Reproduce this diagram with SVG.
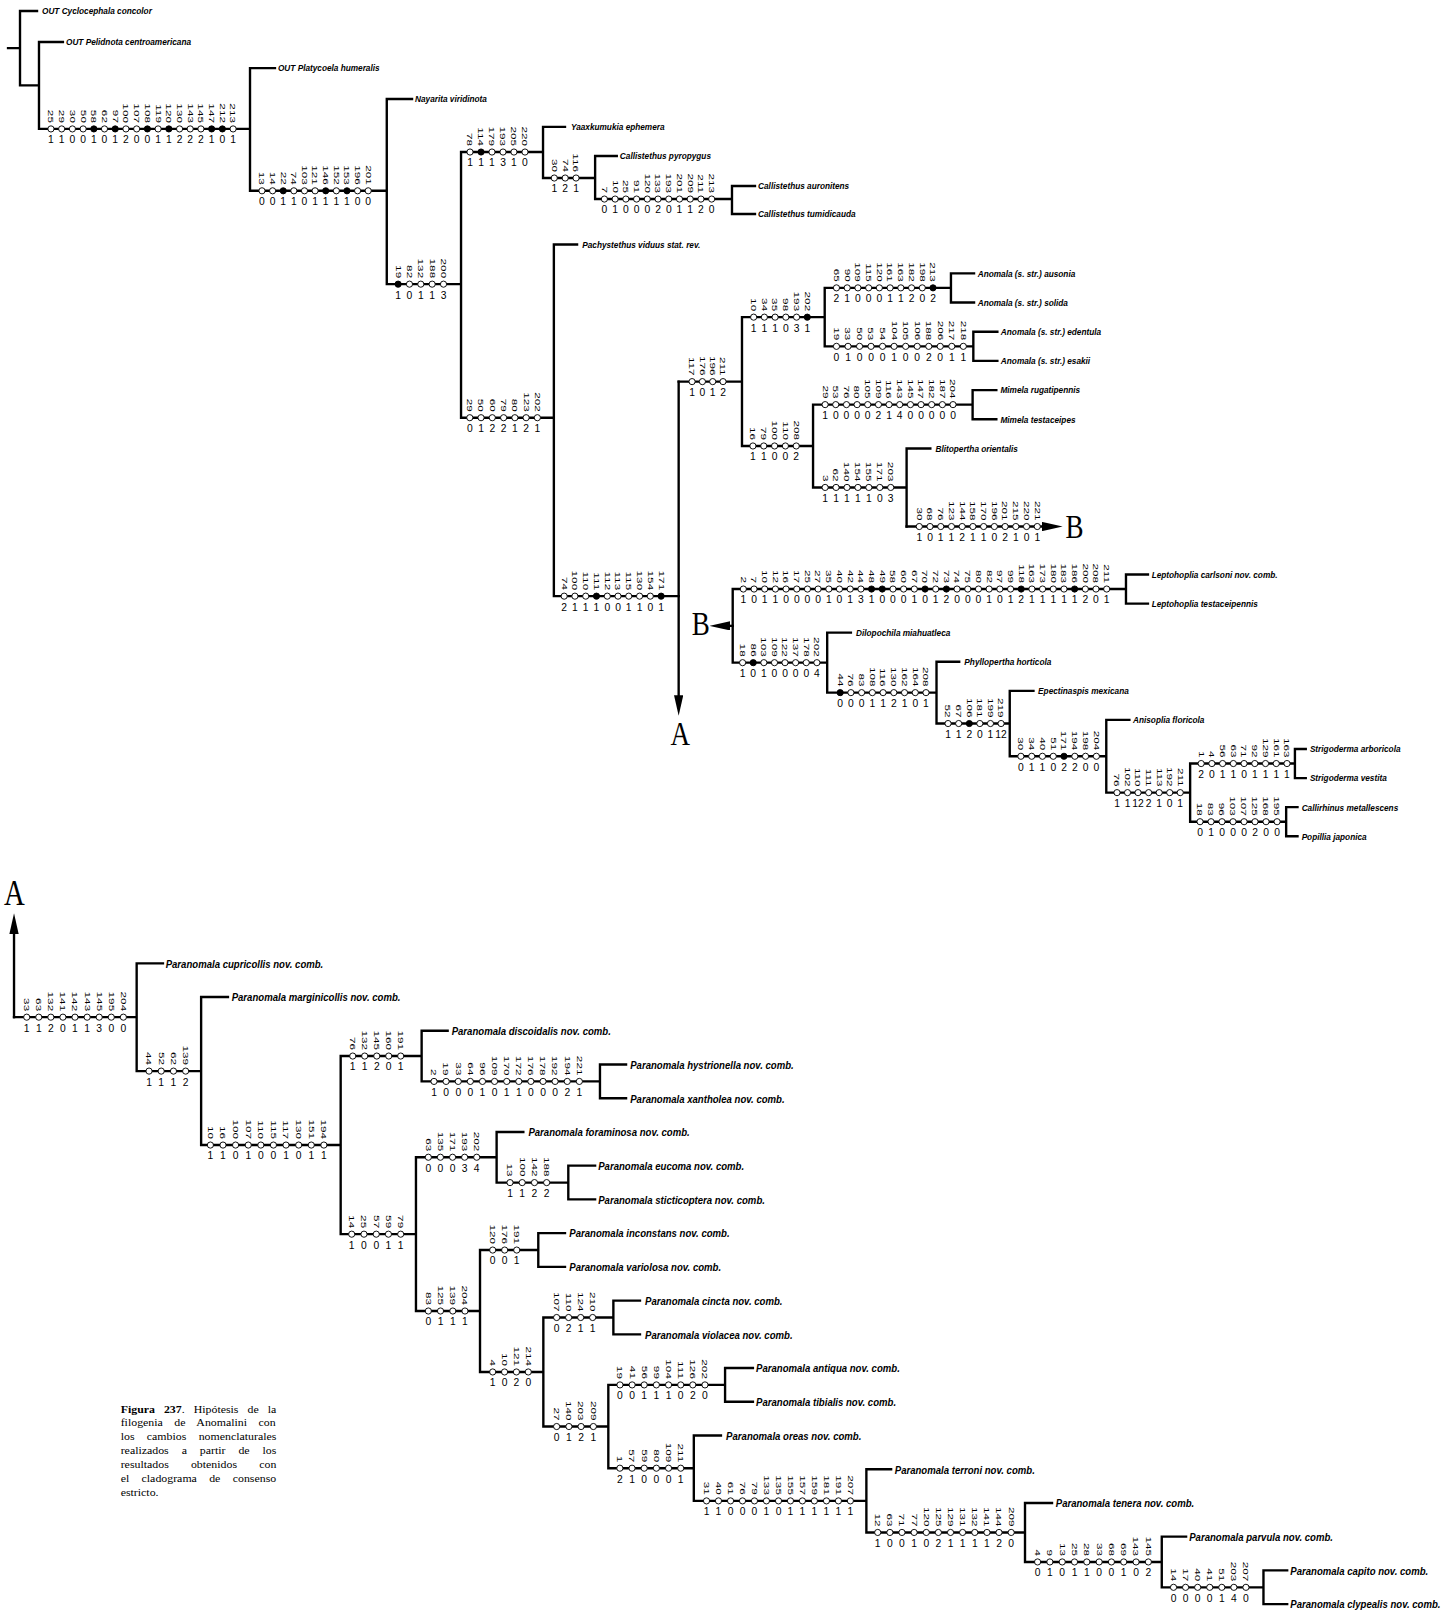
<svg xmlns="http://www.w3.org/2000/svg" width="1444" height="1617" viewBox="0 0 1444 1617">
<defs>
<style>
.ln path{fill:none;stroke:#000;stroke-width:2.3;stroke-linecap:square}
circle{r:3px;fill:#fff;stroke:#000;stroke-width:.9}
circle.f{fill:#000}
.c text{font-family:"Liberation Sans",Arial,sans-serif;font-size:11.4px;text-anchor:end;dominant-baseline:central}
.c text.s{font-size:10px;text-anchor:middle;dominant-baseline:auto}
.t,.tb{font-family:"Liberation Sans",Arial,sans-serif;font-weight:bold;font-style:italic}
.t{font-size:9.2px}
.tb{font-size:11.2px}
.L{font-family:"Liberation Serif","Times New Roman",serif;font-size:32px}
.cap{font-family:"Liberation Serif","Times New Roman",serif;font-size:10px}
</style>
<marker id="ah" markerUnits="userSpaceOnUse" viewBox="0 0 20 9" markerWidth="20" markerHeight="9" refX="8" refY="4.5" orient="auto"><path d="M0 0L20 4.5L0 9z"/></marker>
</defs>
<rect width="1444" height="1617" fill="#fff"/>
<g transform="scale(1.0314)">
<g id="connectors" class="ln">
<path d="M7.8 46.7H19.4M19.4 10.7V82.8M19.4 10.7H35.9M19.4 82.8H37.8M37.8 40.7V125M37.8 40.7H61M37.8 125H242.4M242.4 66V185M242.4 66H266.6M242.4 185H375M375 96V275.5M375 96H399.5M375 275.5H447M447 147.4V405M447 147.4H526.5M526.5 123V172.6M526.5 123H547.8M526.5 172.6H577M577 151.3V193M577 151.3H598M577 193H709.7M709.7 180.3V207.5M709.7 180.3H732M709.7 207.5H732M447 405H537M537 237V578M537 237H559.5M537 578H658M658 370H719.4M719.4 307.5V432.4M719.4 307.5H799.6M799.6 279.1V335.8M799.6 279.1H922M922 265V293.3M922 265H944.4M922 293.3H944.4M799.6 335.8H943.7M943.7 321.6V349.9M943.7 321.6H967M943.7 349.9H967M719.4 432.4H788.3M788.3 392.3V472.6M788.3 392.3H943M943 378.2V406.5M943 378.2H966M943 406.5H966M788.3 472.6H879M879 434.8V510.5M879 434.8H902"/>
<path d="M658 370V682" marker-end="url(#ah)"/>
<path d="M879 510.5H1018.3" marker-end="url(#ah)"/>
<path d="M710.4 606.8H700" marker-end="url(#ah)"/>
<path d="M710.4 571.1V642.5M710.4 571.1H1091.7M1091.7 557V585.2M1091.7 557H1113M1091.7 585.2H1113M710.4 642.5H802M802 613.4V671.55M802 613.4H825M802 671.55H908M908 641.6V701.5M908 641.6H930M908 701.5H979M979 669.8V733.25M979 669.8H1002M979 733.25H1072.6M1072.6 698V768.5M1072.6 698H1095M1072.6 768.5H1153.9M1153.9 740.3V796.7M1153.9 740.3H1255.5M1255.5 726.2V754.4M1255.5 726.2H1266M1255.5 754.4H1266M1153.9 796.7H1247M1247 782.6V810.8M1247 782.6H1258M1247 810.8H1258"/>
<path d="M13.6 986.2V897.5" marker-end="url(#ah)"/>
<path d="M13.6 986.2H132.5M132.5 934V1038.5M132.5 934H158M132.5 1038.5H195M195 966.7V1110.2M195 966.7H221M195 1110.2H330.3M330.3 1023.9V1196.6M330.3 1023.9H408.8M408.8 999.4V1048.5M408.8 999.4H434M408.8 1048.5H581.7M581.7 1032.1V1064.8M581.7 1032.1H607M581.7 1064.8H607M330.3 1196.6H403.3M403.3 1122V1271.1M403.3 1122H481.5M481.5 1097.5V1146.6M481.5 1097.5H507.4M481.5 1146.6H551M551 1130.2V1162.9M551 1130.2H577M551 1162.9H577M403.3 1271.1H465.4M465.4 1212V1330.2M465.4 1212H521.9M521.9 1195.6V1228.3M521.9 1195.6H547.8M521.9 1228.3H547.8M465.4 1330.2H526.8M526.8 1277.4V1383.1M526.8 1277.4H594.7M594.7 1261V1293.7M594.7 1261H620.5M594.7 1293.7H620.5M526.8 1383.1H589.8M589.8 1342.75V1423.5M589.8 1342.75H703M703 1326.4V1359.1M703 1326.4H730M703 1359.1H730M589.8 1423.5H672.7M672.7 1391.8V1455.2M672.7 1391.8H699M672.7 1455.2H840M840 1424.5V1485.8M840 1424.5H864M840 1485.8H993.8M993.8 1457.2V1514.4M993.8 1457.2H1020M993.8 1514.4H1126.4M1126.4 1489.9V1539M1126.4 1489.9H1150M1126.4 1539H1225M1225 1522.6V1555.3M1225 1522.6H1248M1225 1555.3H1248"/>
</g>

<g id="letters" class="L">
<text transform="translate(3.8 877.8) scale(.82 1)" font-size="34">A</text>
<text transform="translate(650 722) scale(.82 1)">A</text>
<text transform="translate(670.6 616) scale(.82 1)">B</text>
<text transform="translate(1033 522) scale(.82 1)">B</text>
</g>

<g id="taxa-top" class="t">
<g id="t-cyclocephala"><text transform="translate(40.7 14) scale(.87 1)">OUT Cyclocephala concolor</text></g>
<g id="t-pelidnota"><text transform="translate(64 44) scale(.87 1)">OUT Pelidnota centroamericana</text></g>
<g id="t-platycoela"><text transform="translate(269.5 69.3) scale(.87 1)">OUT Platycoela humeralis</text></g>
<g id="t-nayarita"><text transform="translate(402.4 99.3) scale(.87 1)">Nayarita viridinota</text></g>
<g id="t-yaax"><text transform="translate(553.6 126.3) scale(.87 1)">Yaaxkumukia ephemera</text></g>
<g id="t-pyropygus"><text transform="translate(601 154.6) scale(.87 1)">Callistethus pyropygus</text></g>
<g id="t-auronitens"><text transform="translate(735 183.6) scale(.87 1)">Callistethus auronitens</text></g>
<g id="t-tumidicauda"><text transform="translate(735 210.8) scale(.87 1)">Callistethus tumidicauda</text></g>
<g id="t-pachystethus"><text transform="translate(564.5 240.3) scale(.87 1)">Pachystethus viduus stat. rev.</text></g>
<g id="t-ausonia"><text transform="translate(948 268.3) scale(.87 1)">Anomala (s. str.) ausonia</text></g>
<g id="t-solida"><text transform="translate(948 296.6) scale(.87 1)">Anomala (s. str.) solida</text></g>
<g id="t-edentula"><text transform="translate(970.4 324.9) scale(.87 1)">Anomala (s. str.) edentula</text></g>
<g id="t-esakii"><text transform="translate(970.4 353.2) scale(.87 1)">Anomala (s. str.) esakii</text></g>
<g id="t-rugatipennis"><text transform="translate(970 381.5) scale(.87 1)">Mimela rugatipennis</text></g>
<g id="t-testaceipes"><text transform="translate(970 409.8) scale(.87 1)">Mimela testaceipes</text></g>
<g id="t-blitopertha"><text transform="translate(907 438.1) scale(.87 1)">Blitopertha orientalis</text></g>
<g id="t-carlsoni"><text transform="translate(1116.6 560.3) scale(.87 1)">Leptohoplia carlsoni nov. comb.</text></g>
<g id="t-testaceipennis"><text transform="translate(1116.6 588.5) scale(.87 1)">Leptohoplia testaceipennis</text></g>
<g id="t-dilopochila"><text transform="translate(830 616.7) scale(.87 1)">Dilopochila miahuatleca</text></g>
<g id="t-phyllopertha"><text transform="translate(935 644.9) scale(.87 1)">Phyllopertha horticola</text></g>
<g id="t-epectinaspis"><text transform="translate(1006.5 673.1) scale(.87 1)">Epectinaspis mexicana</text></g>
<g id="t-anisoplia"><text transform="translate(1098.5 701.3) scale(.87 1)">Anisoplia floricola</text></g>
<g id="t-arboricola"><text transform="translate(1270 729.5) scale(.87 1)">Strigoderma arboricola</text></g>
<g id="t-vestita"><text transform="translate(1270 757.7) scale(.87 1)">Strigoderma vestita</text></g>
<g id="t-callirhinus"><text transform="translate(1262 785.9) scale(.87 1)">Callirhinus metallescens</text></g>
<g id="t-popillia"><text transform="translate(1262 814.1) scale(.87 1)">Popillia japonica</text></g>
</g>

<g id="taxa-bottom" class="tb">
<g id="t-cupricollis"><text transform="translate(160.6 938.2) scale(.83 1)">Paranomala cupricollis nov. comb.</text></g>
<g id="t-marginicollis"><text transform="translate(224.6 970.9) scale(.83 1)">Paranomala marginicollis nov. comb.</text></g>
<g id="t-discoidalis"><text transform="translate(437.9 1003.6) scale(.83 1)">Paranomala discoidalis nov. comb.</text></g>
<g id="t-hystrionella"><text transform="translate(611 1036.3) scale(.83 1)">Paranomala hystrionella nov. comb.</text></g>
<g id="t-xantholea"><text transform="translate(611 1069) scale(.83 1)">Paranomala xantholea nov. comb.</text></g>
<g id="t-foraminosa"><text transform="translate(512.3 1101.7) scale(.83 1)">Paranomala foraminosa nov. comb.</text></g>
<g id="t-eucoma"><text transform="translate(580 1134.4) scale(.83 1)">Paranomala eucoma nov. comb.</text></g>
<g id="t-sticticoptera"><text transform="translate(580 1167.1) scale(.83 1)">Paranomala sticticoptera nov. comb.</text></g>
<g id="t-inconstans"><text transform="translate(552 1199.8) scale(.83 1)">Paranomala inconstans nov. comb.</text></g>
<g id="t-variolosa"><text transform="translate(552 1232.5) scale(.83 1)">Paranomala variolosa nov. comb.</text></g>
<g id="t-cincta"><text transform="translate(625.4 1265.2) scale(.83 1)">Paranomala cincta nov. comb.</text></g>
<g id="t-violacea"><text transform="translate(625.4 1297.9) scale(.83 1)">Paranomala violacea nov. comb.</text></g>
<g id="t-antiqua"><text transform="translate(733 1330.6) scale(.83 1)">Paranomala antiqua nov. comb.</text></g>
<g id="t-tibialis"><text transform="translate(733 1363.3) scale(.83 1)">Paranomala tibialis nov. comb.</text></g>
<g id="t-oreas"><text transform="translate(704 1396) scale(.83 1)">Paranomala oreas nov. comb.</text></g>
<g id="t-terroni"><text transform="translate(867.5 1428.7) scale(.83 1)">Paranomala terroni nov. comb.</text></g>
<g id="t-tenera"><text transform="translate(1023.6 1461.4) scale(.83 1)">Paranomala tenera nov. comb.</text></g>
<g id="t-parvula"><text transform="translate(1153 1494.1) scale(.83 1)">Paranomala parvula nov. comb.</text></g>
<g id="t-capito"><text transform="translate(1251 1526.8) scale(.83 1)">Paranomala capito nov. comb.</text></g>
<g id="t-clypealis"><text transform="translate(1251 1559.5) scale(.83 1)">Paranomala clypealis nov. comb.</text></g>
</g>

<g id="b1" class="c" transform="translate(0 125)">
<circle cx="49.4"/><text transform="translate(49.4 -5.8)rotate(90)scale(1 .62)">25</text><text class="s" x="49.4" y="14">1</text>
<circle cx="59.8"/><text transform="translate(59.8 -5.8)rotate(90)scale(1 .62)">29</text><text class="s" x="59.8" y="14">1</text>
<circle cx="70.2"/><text transform="translate(70.2 -5.8)rotate(90)scale(1 .62)">30</text><text class="s" x="70.2" y="14">0</text>
<circle cx="80.6"/><text transform="translate(80.6 -5.8)rotate(90)scale(1 .62)">50</text><text class="s" x="80.6" y="14">0</text>
<circle class="f" cx="91"/><text transform="translate(91 -5.8)rotate(90)scale(1 .62)">58</text><text class="s" x="91" y="14">1</text>
<circle cx="101.3"/><text transform="translate(101.3 -5.8)rotate(90)scale(1 .62)">62</text><text class="s" x="101.3" y="14">0</text>
<circle class="f" cx="111.7"/><text transform="translate(111.7 -5.8)rotate(90)scale(1 .62)">97</text><text class="s" x="111.7" y="14">1</text>
<circle cx="122.1"/><text transform="translate(122.1 -5.8)rotate(90)scale(1 .62)">100</text><text class="s" x="122.1" y="14">2</text>
<circle cx="132.5"/><text transform="translate(132.5 -5.8)rotate(90)scale(1 .62)">107</text><text class="s" x="132.5" y="14">0</text>
<circle class="f" cx="142.9"/><text transform="translate(142.9 -5.8)rotate(90)scale(1 .62)">108</text><text class="s" x="142.9" y="14">0</text>
<circle cx="153.3"/><text transform="translate(153.3 -5.8)rotate(90)scale(1 .62)">119</text><text class="s" x="153.3" y="14">1</text>
<circle class="f" cx="163.7"/><text transform="translate(163.7 -5.8)rotate(90)scale(1 .62)">120</text><text class="s" x="163.7" y="14">1</text>
<circle cx="174.1"/><text transform="translate(174.1 -5.8)rotate(90)scale(1 .62)">130</text><text class="s" x="174.1" y="14">2</text>
<circle cx="184.4"/><text transform="translate(184.4 -5.8)rotate(90)scale(1 .62)">143</text><text class="s" x="184.4" y="14">2</text>
<circle cx="194.8"/><text transform="translate(194.8 -5.8)rotate(90)scale(1 .62)">145</text><text class="s" x="194.8" y="14">2</text>
<circle class="f" cx="205.2"/><text transform="translate(205.2 -5.8)rotate(90)scale(1 .62)">147</text><text class="s" x="205.2" y="14">1</text>
<circle class="f" cx="215.6"/><text transform="translate(215.6 -5.8)rotate(90)scale(1 .62)">212</text><text class="s" x="215.6" y="14">0</text>
<circle cx="226"/><text transform="translate(226 -5.8)rotate(90)scale(1 .62)">213</text><text class="s" x="226" y="14">1</text>
</g>

<g id="b2" class="c" transform="translate(0 185)">
<circle cx="254"/><text transform="translate(254 -5.8)rotate(90)scale(1 .62)">13</text><text class="s" x="254" y="14">0</text>
<circle cx="264.3"/><text transform="translate(264.3 -5.8)rotate(90)scale(1 .62)">14</text><text class="s" x="264.3" y="14">0</text>
<circle class="f" cx="274.6"/><text transform="translate(274.6 -5.8)rotate(90)scale(1 .62)">22</text><text class="s" x="274.6" y="14">1</text>
<circle cx="284.9"/><text transform="translate(284.9 -5.8)rotate(90)scale(1 .62)">74</text><text class="s" x="284.9" y="14">1</text>
<circle cx="295.2"/><text transform="translate(295.2 -5.8)rotate(90)scale(1 .62)">103</text><text class="s" x="295.2" y="14">0</text>
<circle cx="305.5"/><text transform="translate(305.5 -5.8)rotate(90)scale(1 .62)">121</text><text class="s" x="305.5" y="14">1</text>
<circle class="f" cx="315.8"/><text transform="translate(315.8 -5.8)rotate(90)scale(1 .62)">146</text><text class="s" x="315.8" y="14">1</text>
<circle cx="326.1"/><text transform="translate(326.1 -5.8)rotate(90)scale(1 .62)">152</text><text class="s" x="326.1" y="14">1</text>
<circle class="f" cx="336.4"/><text transform="translate(336.4 -5.8)rotate(90)scale(1 .62)">153</text><text class="s" x="336.4" y="14">1</text>
<circle cx="346.7"/><text transform="translate(346.7 -5.8)rotate(90)scale(1 .62)">196</text><text class="s" x="346.7" y="14">0</text>
<circle cx="357"/><text transform="translate(357 -5.8)rotate(90)scale(1 .62)">201</text><text class="s" x="357" y="14">0</text>
</g>

<g id="b3" class="c" transform="translate(0 275.5)">
<circle class="f" cx="386"/><text transform="translate(386 -5.8)rotate(90)scale(1 .62)">19</text><text class="s" x="386" y="14">1</text>
<circle cx="397"/><text transform="translate(397 -5.8)rotate(90)scale(1 .62)">82</text><text class="s" x="397" y="14">0</text>
<circle cx="408"/><text transform="translate(408 -5.8)rotate(90)scale(1 .62)">132</text><text class="s" x="408" y="14">1</text>
<circle cx="419"/><text transform="translate(419 -5.8)rotate(90)scale(1 .62)">188</text><text class="s" x="419" y="14">1</text>
<circle cx="430"/><text transform="translate(430 -5.8)rotate(90)scale(1 .62)">200</text><text class="s" x="430" y="14">3</text>
</g>

<g id="b4" class="c" transform="translate(0 147.4)">
<circle cx="455.7"/><text transform="translate(455.7 -5.8)rotate(90)scale(1 .62)">78</text><text class="s" x="455.7" y="14">1</text>
<circle class="f" cx="466.4"/><text transform="translate(466.4 -5.8)rotate(90)scale(1 .62)">114</text><text class="s" x="466.4" y="14">1</text>
<circle cx="477"/><text transform="translate(477 -5.8)rotate(90)scale(1 .62)">179</text><text class="s" x="477" y="14">1</text>
<circle cx="487.7"/><text transform="translate(487.7 -5.8)rotate(90)scale(1 .62)">193</text><text class="s" x="487.7" y="14">3</text>
<circle cx="498.3"/><text transform="translate(498.3 -5.8)rotate(90)scale(1 .62)">205</text><text class="s" x="498.3" y="14">1</text>
<circle cx="509"/><text transform="translate(509 -5.8)rotate(90)scale(1 .62)">220</text><text class="s" x="509" y="14">0</text>
</g>

<g id="b5" class="c" transform="translate(0 172.6)">
<circle cx="537.4"/><text transform="translate(537.4 -5.8)rotate(90)scale(1 .62)">30</text><text class="s" x="537.4" y="14">1</text>
<circle cx="548"/><text transform="translate(548 -5.8)rotate(90)scale(1 .62)">74</text><text class="s" x="548" y="14">2</text>
<circle cx="558.5"/><text transform="translate(558.5 -5.8)rotate(90)scale(1 .62)">116</text><text class="s" x="558.5" y="14">1</text>
</g>

<g id="b6" class="c" transform="translate(0 193)">
<circle cx="586"/><text transform="translate(586 -5.8)rotate(90)scale(1 .62)">7</text><text class="s" x="586" y="14">0</text>
<circle cx="596.4"/><text transform="translate(596.4 -5.8)rotate(90)scale(1 .62)">10</text><text class="s" x="596.4" y="14">1</text>
<circle cx="606.8"/><text transform="translate(606.8 -5.8)rotate(90)scale(1 .62)">25</text><text class="s" x="606.8" y="14">0</text>
<circle cx="617.2"/><text transform="translate(617.2 -5.8)rotate(90)scale(1 .62)">91</text><text class="s" x="617.2" y="14">0</text>
<circle cx="627.6"/><text transform="translate(627.6 -5.8)rotate(90)scale(1 .62)">120</text><text class="s" x="627.6" y="14">0</text>
<circle cx="638"/><text transform="translate(638 -5.8)rotate(90)scale(1 .62)">133</text><text class="s" x="638" y="14">2</text>
<circle cx="648.4"/><text transform="translate(648.4 -5.8)rotate(90)scale(1 .62)">193</text><text class="s" x="648.4" y="14">0</text>
<circle cx="658.8"/><text transform="translate(658.8 -5.8)rotate(90)scale(1 .62)">201</text><text class="s" x="658.8" y="14">1</text>
<circle cx="669.2"/><text transform="translate(669.2 -5.8)rotate(90)scale(1 .62)">209</text><text class="s" x="669.2" y="14">1</text>
<circle cx="679.6"/><text transform="translate(679.6 -5.8)rotate(90)scale(1 .62)">211</text><text class="s" x="679.6" y="14">2</text>
<circle cx="690"/><text transform="translate(690 -5.8)rotate(90)scale(1 .62)">213</text><text class="s" x="690" y="14">0</text>
</g>

<g id="b7" class="c" transform="translate(0 405)">
<circle cx="455.5"/><text transform="translate(455.5 -5.8)rotate(90)scale(1 .62)">29</text><text class="s" x="455.5" y="14">0</text>
<circle cx="466.4"/><text transform="translate(466.4 -5.8)rotate(90)scale(1 .62)">50</text><text class="s" x="466.4" y="14">1</text>
<circle cx="477.3"/><text transform="translate(477.3 -5.8)rotate(90)scale(1 .62)">60</text><text class="s" x="477.3" y="14">2</text>
<circle cx="488.3"/><text transform="translate(488.3 -5.8)rotate(90)scale(1 .62)">79</text><text class="s" x="488.3" y="14">2</text>
<circle cx="499.2"/><text transform="translate(499.2 -5.8)rotate(90)scale(1 .62)">80</text><text class="s" x="499.2" y="14">1</text>
<circle cx="510.1"/><text transform="translate(510.1 -5.8)rotate(90)scale(1 .62)">123</text><text class="s" x="510.1" y="14">2</text>
<circle cx="521"/><text transform="translate(521 -5.8)rotate(90)scale(1 .62)">202</text><text class="s" x="521" y="14">1</text>
</g>

<g id="b8" class="c" transform="translate(0 578)">
<circle cx="547"/><text transform="translate(547 -5.8)rotate(90)scale(1 .62)">74</text><text class="s" x="547" y="14">2</text>
<circle cx="557.4"/><text transform="translate(557.4 -5.8)rotate(90)scale(1 .62)">100</text><text class="s" x="557.4" y="14">1</text>
<circle cx="567.9"/><text transform="translate(567.9 -5.8)rotate(90)scale(1 .62)">110</text><text class="s" x="567.9" y="14">1</text>
<circle class="f" cx="578.3"/><text transform="translate(578.3 -5.8)rotate(90)scale(1 .62)">111</text><text class="s" x="578.3" y="14">1</text>
<circle cx="588.8"/><text transform="translate(588.8 -5.8)rotate(90)scale(1 .62)">112</text><text class="s" x="588.8" y="14">0</text>
<circle cx="599.2"/><text transform="translate(599.2 -5.8)rotate(90)scale(1 .62)">113</text><text class="s" x="599.2" y="14">0</text>
<circle cx="609.6"/><text transform="translate(609.6 -5.8)rotate(90)scale(1 .62)">115</text><text class="s" x="609.6" y="14">1</text>
<circle cx="620.1"/><text transform="translate(620.1 -5.8)rotate(90)scale(1 .62)">130</text><text class="s" x="620.1" y="14">1</text>
<circle cx="630.5"/><text transform="translate(630.5 -5.8)rotate(90)scale(1 .62)">154</text><text class="s" x="630.5" y="14">0</text>
<circle class="f" cx="641"/><text transform="translate(641 -5.8)rotate(90)scale(1 .62)">171</text><text class="s" x="641" y="14">1</text>
</g>

<g id="b9" class="c" transform="translate(0 370)">
<circle cx="671"/><text transform="translate(671 -5.8)rotate(90)scale(1 .62)">117</text><text class="s" x="671" y="14">1</text>
<circle cx="681"/><text transform="translate(681 -5.8)rotate(90)scale(1 .62)">176</text><text class="s" x="681" y="14">0</text>
<circle cx="691"/><text transform="translate(691 -5.8)rotate(90)scale(1 .62)">196</text><text class="s" x="691" y="14">1</text>
<circle cx="701"/><text transform="translate(701 -5.8)rotate(90)scale(1 .62)">211</text><text class="s" x="701" y="14">2</text>
</g>

<g id="b10" class="c" transform="translate(0 307.5)">
<circle cx="730.7"/><text transform="translate(730.7 -5.8)rotate(90)scale(1 .62)">10</text><text class="s" x="730.7" y="14">1</text>
<circle cx="741.1"/><text transform="translate(741.1 -5.8)rotate(90)scale(1 .62)">34</text><text class="s" x="741.1" y="14">1</text>
<circle cx="751.5"/><text transform="translate(751.5 -5.8)rotate(90)scale(1 .62)">35</text><text class="s" x="751.5" y="14">1</text>
<circle cx="761.9"/><text transform="translate(761.9 -5.8)rotate(90)scale(1 .62)">98</text><text class="s" x="761.9" y="14">0</text>
<circle cx="772.3"/><text transform="translate(772.3 -5.8)rotate(90)scale(1 .62)">193</text><text class="s" x="772.3" y="14">3</text>
<circle class="f" cx="782.7"/><text transform="translate(782.7 -5.8)rotate(90)scale(1 .62)">202</text><text class="s" x="782.7" y="14">1</text>
</g>

<g id="b11" class="c" transform="translate(0 279.1)">
<circle cx="811"/><text transform="translate(811 -5.8)rotate(90)scale(1 .62)">65</text><text class="s" x="811" y="14">2</text>
<circle cx="821.4"/><text transform="translate(821.4 -5.8)rotate(90)scale(1 .62)">90</text><text class="s" x="821.4" y="14">1</text>
<circle cx="831.8"/><text transform="translate(831.8 -5.8)rotate(90)scale(1 .62)">109</text><text class="s" x="831.8" y="14">0</text>
<circle cx="842.2"/><text transform="translate(842.2 -5.8)rotate(90)scale(1 .62)">115</text><text class="s" x="842.2" y="14">0</text>
<circle cx="852.6"/><text transform="translate(852.6 -5.8)rotate(90)scale(1 .62)">120</text><text class="s" x="852.6" y="14">0</text>
<circle cx="863"/><text transform="translate(863 -5.8)rotate(90)scale(1 .62)">161</text><text class="s" x="863" y="14">1</text>
<circle cx="873.4"/><text transform="translate(873.4 -5.8)rotate(90)scale(1 .62)">163</text><text class="s" x="873.4" y="14">1</text>
<circle cx="883.8"/><text transform="translate(883.8 -5.8)rotate(90)scale(1 .62)">182</text><text class="s" x="883.8" y="14">2</text>
<circle cx="894.2"/><text transform="translate(894.2 -5.8)rotate(90)scale(1 .62)">198</text><text class="s" x="894.2" y="14">0</text>
<circle class="f" cx="904.6"/><text transform="translate(904.6 -5.8)rotate(90)scale(1 .62)">213</text><text class="s" x="904.6" y="14">2</text>
</g>

<g id="b12" class="c" transform="translate(0 335.8)">
<circle cx="811"/><text transform="translate(811 -5.8)rotate(90)scale(1 .62)">19</text><text class="s" x="811" y="14">0</text>
<circle cx="822.2"/><text transform="translate(822.2 -5.8)rotate(90)scale(1 .62)">33</text><text class="s" x="822.2" y="14">1</text>
<circle cx="833.4"/><text transform="translate(833.4 -5.8)rotate(90)scale(1 .62)">50</text><text class="s" x="833.4" y="14">0</text>
<circle cx="844.5"/><text transform="translate(844.5 -5.8)rotate(90)scale(1 .62)">53</text><text class="s" x="844.5" y="14">0</text>
<circle cx="855.7"/><text transform="translate(855.7 -5.8)rotate(90)scale(1 .62)">54</text><text class="s" x="855.7" y="14">0</text>
<circle cx="866.9"/><text transform="translate(866.9 -5.8)rotate(90)scale(1 .62)">104</text><text class="s" x="866.9" y="14">1</text>
<circle cx="878.1"/><text transform="translate(878.1 -5.8)rotate(90)scale(1 .62)">105</text><text class="s" x="878.1" y="14">0</text>
<circle cx="889.3"/><text transform="translate(889.3 -5.8)rotate(90)scale(1 .62)">106</text><text class="s" x="889.3" y="14">0</text>
<circle cx="900.5"/><text transform="translate(900.5 -5.8)rotate(90)scale(1 .62)">188</text><text class="s" x="900.5" y="14">2</text>
<circle cx="911.6"/><text transform="translate(911.6 -5.8)rotate(90)scale(1 .62)">206</text><text class="s" x="911.6" y="14">0</text>
<circle cx="922.8"/><text transform="translate(922.8 -5.8)rotate(90)scale(1 .62)">217</text><text class="s" x="922.8" y="14">1</text>
<circle cx="934"/><text transform="translate(934 -5.8)rotate(90)scale(1 .62)">218</text><text class="s" x="934" y="14">1</text>
</g>

<g id="b13" class="c" transform="translate(0 432.4)">
<circle cx="730"/><text transform="translate(730 -5.8)rotate(90)scale(1 .62)">16</text><text class="s" x="730" y="14">1</text>
<circle cx="740.5"/><text transform="translate(740.5 -5.8)rotate(90)scale(1 .62)">79</text><text class="s" x="740.5" y="14">1</text>
<circle cx="751"/><text transform="translate(751 -5.8)rotate(90)scale(1 .62)">100</text><text class="s" x="751" y="14">0</text>
<circle cx="761.5"/><text transform="translate(761.5 -5.8)rotate(90)scale(1 .62)">110</text><text class="s" x="761.5" y="14">0</text>
<circle cx="772"/><text transform="translate(772 -5.8)rotate(90)scale(1 .62)">208</text><text class="s" x="772" y="14">2</text>
</g>

<g id="b14" class="c" transform="translate(0 392.3)">
<circle cx="800"/><text transform="translate(800 -5.8)rotate(90)scale(1 .62)">29</text><text class="s" x="800" y="14">1</text>
<circle cx="810.3"/><text transform="translate(810.3 -5.8)rotate(90)scale(1 .62)">53</text><text class="s" x="810.3" y="14">0</text>
<circle cx="820.7"/><text transform="translate(820.7 -5.8)rotate(90)scale(1 .62)">76</text><text class="s" x="820.7" y="14">0</text>
<circle cx="831"/><text transform="translate(831 -5.8)rotate(90)scale(1 .62)">80</text><text class="s" x="831" y="14">0</text>
<circle cx="841.3"/><text transform="translate(841.3 -5.8)rotate(90)scale(1 .62)">105</text><text class="s" x="841.3" y="14">0</text>
<circle cx="851.7"/><text transform="translate(851.7 -5.8)rotate(90)scale(1 .62)">109</text><text class="s" x="851.7" y="14">2</text>
<circle cx="862"/><text transform="translate(862 -5.8)rotate(90)scale(1 .62)">116</text><text class="s" x="862" y="14">1</text>
<circle cx="872.3"/><text transform="translate(872.3 -5.8)rotate(90)scale(1 .62)">143</text><text class="s" x="872.3" y="14">4</text>
<circle cx="882.7"/><text transform="translate(882.7 -5.8)rotate(90)scale(1 .62)">145</text><text class="s" x="882.7" y="14">0</text>
<circle cx="893"/><text transform="translate(893 -5.8)rotate(90)scale(1 .62)">147</text><text class="s" x="893" y="14">0</text>
<circle cx="903.3"/><text transform="translate(903.3 -5.8)rotate(90)scale(1 .62)">182</text><text class="s" x="903.3" y="14">0</text>
<circle cx="913.7"/><text transform="translate(913.7 -5.8)rotate(90)scale(1 .62)">187</text><text class="s" x="913.7" y="14">0</text>
<circle cx="924"/><text transform="translate(924 -5.8)rotate(90)scale(1 .62)">204</text><text class="s" x="924" y="14">0</text>
</g>

<g id="b15" class="c" transform="translate(0 472.6)">
<circle cx="800"/><text transform="translate(800 -5.8)rotate(90)scale(1 .62)">3</text><text class="s" x="800" y="14">1</text>
<circle cx="810.6"/><text transform="translate(810.6 -5.8)rotate(90)scale(1 .62)">62</text><text class="s" x="810.6" y="14">1</text>
<circle cx="821.2"/><text transform="translate(821.2 -5.8)rotate(90)scale(1 .62)">140</text><text class="s" x="821.2" y="14">1</text>
<circle cx="831.8"/><text transform="translate(831.8 -5.8)rotate(90)scale(1 .62)">154</text><text class="s" x="831.8" y="14">1</text>
<circle cx="842.4"/><text transform="translate(842.4 -5.8)rotate(90)scale(1 .62)">155</text><text class="s" x="842.4" y="14">1</text>
<circle cx="853"/><text transform="translate(853 -5.8)rotate(90)scale(1 .62)">171</text><text class="s" x="853" y="14">0</text>
<circle cx="863.6"/><text transform="translate(863.6 -5.8)rotate(90)scale(1 .62)">203</text><text class="s" x="863.6" y="14">3</text>
</g>

<g id="b16" class="c" transform="translate(0 510.5)">
<circle cx="891.3"/><text transform="translate(891.3 -5.8)rotate(90)scale(1 .62)">30</text><text class="s" x="891.3" y="14">1</text>
<circle cx="901.7"/><text transform="translate(901.7 -5.8)rotate(90)scale(1 .62)">68</text><text class="s" x="901.7" y="14">0</text>
<circle cx="912.1"/><text transform="translate(912.1 -5.8)rotate(90)scale(1 .62)">76</text><text class="s" x="912.1" y="14">1</text>
<circle cx="922.5"/><text transform="translate(922.5 -5.8)rotate(90)scale(1 .62)">123</text><text class="s" x="922.5" y="14">1</text>
<circle cx="932.9"/><text transform="translate(932.9 -5.8)rotate(90)scale(1 .62)">144</text><text class="s" x="932.9" y="14">2</text>
<circle cx="943.3"/><text transform="translate(943.3 -5.8)rotate(90)scale(1 .62)">158</text><text class="s" x="943.3" y="14">1</text>
<circle cx="953.7"/><text transform="translate(953.7 -5.8)rotate(90)scale(1 .62)">170</text><text class="s" x="953.7" y="14">1</text>
<circle cx="964.1"/><text transform="translate(964.1 -5.8)rotate(90)scale(1 .62)">196</text><text class="s" x="964.1" y="14">0</text>
<circle cx="974.5"/><text transform="translate(974.5 -5.8)rotate(90)scale(1 .62)">201</text><text class="s" x="974.5" y="14">2</text>
<circle cx="984.9"/><text transform="translate(984.9 -5.8)rotate(90)scale(1 .62)">215</text><text class="s" x="984.9" y="14">1</text>
<circle cx="995.3"/><text transform="translate(995.3 -5.8)rotate(90)scale(1 .62)">220</text><text class="s" x="995.3" y="14">0</text>
<circle cx="1005.7"/><text transform="translate(1005.7 -5.8)rotate(90)scale(1 .62)">221</text><text class="s" x="1005.7" y="14">1</text>
</g>

<g id="b17" class="c" transform="translate(0 571.1)">
<circle cx="720.7"/><text transform="translate(720.7 -5.8)rotate(90)scale(1 .62)">2</text><text class="s" x="720.7" y="14">1</text>
<circle cx="731.1"/><text transform="translate(731.1 -5.8)rotate(90)scale(1 .62)">7</text><text class="s" x="731.1" y="14">0</text>
<circle cx="741.4"/><text transform="translate(741.4 -5.8)rotate(90)scale(1 .62)">10</text><text class="s" x="741.4" y="14">1</text>
<circle cx="751.8"/><text transform="translate(751.8 -5.8)rotate(90)scale(1 .62)">12</text><text class="s" x="751.8" y="14">1</text>
<circle cx="762.1"/><text transform="translate(762.1 -5.8)rotate(90)scale(1 .62)">16</text><text class="s" x="762.1" y="14">0</text>
<circle cx="772.5"/><text transform="translate(772.5 -5.8)rotate(90)scale(1 .62)">17</text><text class="s" x="772.5" y="14">0</text>
<circle cx="782.9"/><text transform="translate(782.9 -5.8)rotate(90)scale(1 .62)">25</text><text class="s" x="782.9" y="14">0</text>
<circle cx="793.2"/><text transform="translate(793.2 -5.8)rotate(90)scale(1 .62)">27</text><text class="s" x="793.2" y="14">0</text>
<circle cx="803.6"/><text transform="translate(803.6 -5.8)rotate(90)scale(1 .62)">35</text><text class="s" x="803.6" y="14">1</text>
<circle cx="813.9"/><text transform="translate(813.9 -5.8)rotate(90)scale(1 .62)">40</text><text class="s" x="813.9" y="14">0</text>
<circle cx="824.3"/><text transform="translate(824.3 -5.8)rotate(90)scale(1 .62)">42</text><text class="s" x="824.3" y="14">1</text>
<circle cx="834.7"/><text transform="translate(834.7 -5.8)rotate(90)scale(1 .62)">44</text><text class="s" x="834.7" y="14">3</text>
<circle class="f" cx="845"/><text transform="translate(845 -5.8)rotate(90)scale(1 .62)">48</text><text class="s" x="845" y="14">1</text>
<circle class="f" cx="855.4"/><text transform="translate(855.4 -5.8)rotate(90)scale(1 .62)">49</text><text class="s" x="855.4" y="14">0</text>
<circle cx="865.8"/><text transform="translate(865.8 -5.8)rotate(90)scale(1 .62)">58</text><text class="s" x="865.8" y="14">0</text>
<circle cx="876.1"/><text transform="translate(876.1 -5.8)rotate(90)scale(1 .62)">60</text><text class="s" x="876.1" y="14">0</text>
<circle cx="886.5"/><text transform="translate(886.5 -5.8)rotate(90)scale(1 .62)">67</text><text class="s" x="886.5" y="14">1</text>
<circle class="f" cx="896.9"/><text transform="translate(896.9 -5.8)rotate(90)scale(1 .62)">70</text><text class="s" x="896.9" y="14">0</text>
<circle cx="907.2"/><text transform="translate(907.2 -5.8)rotate(90)scale(1 .62)">72</text><text class="s" x="907.2" y="14">1</text>
<circle class="f" cx="917.6"/><text transform="translate(917.6 -5.8)rotate(90)scale(1 .62)">73</text><text class="s" x="917.6" y="14">2</text>
<circle cx="927.9"/><text transform="translate(927.9 -5.8)rotate(90)scale(1 .62)">74</text><text class="s" x="927.9" y="14">0</text>
<circle cx="938.3"/><text transform="translate(938.3 -5.8)rotate(90)scale(1 .62)">75</text><text class="s" x="938.3" y="14">0</text>
<circle cx="948.7"/><text transform="translate(948.7 -5.8)rotate(90)scale(1 .62)">80</text><text class="s" x="948.7" y="14">0</text>
<circle cx="959"/><text transform="translate(959 -5.8)rotate(90)scale(1 .62)">82</text><text class="s" x="959" y="14">1</text>
<circle cx="969.4"/><text transform="translate(969.4 -5.8)rotate(90)scale(1 .62)">97</text><text class="s" x="969.4" y="14">0</text>
<circle cx="979.8"/><text transform="translate(979.8 -5.8)rotate(90)scale(1 .62)">99</text><text class="s" x="979.8" y="14">1</text>
<circle class="f" cx="990.1"/><text transform="translate(990.1 -5.8)rotate(90)scale(1 .62)">118</text><text class="s" x="990.1" y="14">2</text>
<circle cx="1000.5"/><text transform="translate(1000.5 -5.8)rotate(90)scale(1 .62)">163</text><text class="s" x="1000.5" y="14">1</text>
<circle cx="1010.8"/><text transform="translate(1010.8 -5.8)rotate(90)scale(1 .62)">173</text><text class="s" x="1010.8" y="14">1</text>
<circle cx="1021.2"/><text transform="translate(1021.2 -5.8)rotate(90)scale(1 .62)">180</text><text class="s" x="1021.2" y="14">1</text>
<circle cx="1031.6"/><text transform="translate(1031.6 -5.8)rotate(90)scale(1 .62)">183</text><text class="s" x="1031.6" y="14">1</text>
<circle class="f" cx="1041.9"/><text transform="translate(1041.9 -5.8)rotate(90)scale(1 .62)">186</text><text class="s" x="1041.9" y="14">1</text>
<circle cx="1052.3"/><text transform="translate(1052.3 -5.8)rotate(90)scale(1 .62)">200</text><text class="s" x="1052.3" y="14">2</text>
<circle cx="1062.6"/><text transform="translate(1062.6 -5.8)rotate(90)scale(1 .62)">208</text><text class="s" x="1062.6" y="14">0</text>
<circle cx="1073"/><text transform="translate(1073 -5.8)rotate(90)scale(1 .62)">211</text><text class="s" x="1073" y="14">1</text>
</g>

<g id="b18" class="c" transform="translate(0 642.5)">
<circle cx="720"/><text transform="translate(720 -5.8)rotate(90)scale(1 .62)">18</text><text class="s" x="720" y="14">1</text>
<circle class="f" cx="730.3"/><text transform="translate(730.3 -5.8)rotate(90)scale(1 .62)">86</text><text class="s" x="730.3" y="14">0</text>
<circle cx="740.6"/><text transform="translate(740.6 -5.8)rotate(90)scale(1 .62)">103</text><text class="s" x="740.6" y="14">1</text>
<circle cx="750.9"/><text transform="translate(750.9 -5.8)rotate(90)scale(1 .62)">109</text><text class="s" x="750.9" y="14">0</text>
<circle cx="761.1"/><text transform="translate(761.1 -5.8)rotate(90)scale(1 .62)">122</text><text class="s" x="761.1" y="14">0</text>
<circle cx="771.4"/><text transform="translate(771.4 -5.8)rotate(90)scale(1 .62)">137</text><text class="s" x="771.4" y="14">0</text>
<circle cx="781.7"/><text transform="translate(781.7 -5.8)rotate(90)scale(1 .62)">178</text><text class="s" x="781.7" y="14">0</text>
<circle cx="792"/><text transform="translate(792 -5.8)rotate(90)scale(1 .62)">202</text><text class="s" x="792" y="14">4</text>
</g>

<g id="b19" class="c" transform="translate(0 671.55)">
<circle class="f" cx="814.6"/><text transform="translate(814.6 -5.8)rotate(90)scale(1 .62)">44</text><text class="s" x="814.6" y="14">0</text>
<circle cx="825"/><text transform="translate(825 -5.8)rotate(90)scale(1 .62)">76</text><text class="s" x="825" y="14">0</text>
<circle cx="835.4"/><text transform="translate(835.4 -5.8)rotate(90)scale(1 .62)">83</text><text class="s" x="835.4" y="14">0</text>
<circle cx="845.8"/><text transform="translate(845.8 -5.8)rotate(90)scale(1 .62)">108</text><text class="s" x="845.8" y="14">1</text>
<circle cx="856.2"/><text transform="translate(856.2 -5.8)rotate(90)scale(1 .62)">116</text><text class="s" x="856.2" y="14">1</text>
<circle cx="866.6"/><text transform="translate(866.6 -5.8)rotate(90)scale(1 .62)">130</text><text class="s" x="866.6" y="14">2</text>
<circle cx="877"/><text transform="translate(877 -5.8)rotate(90)scale(1 .62)">162</text><text class="s" x="877" y="14">1</text>
<circle cx="887.4"/><text transform="translate(887.4 -5.8)rotate(90)scale(1 .62)">164</text><text class="s" x="887.4" y="14">0</text>
<circle cx="897.8"/><text transform="translate(897.8 -5.8)rotate(90)scale(1 .62)">208</text><text class="s" x="897.8" y="14">1</text>
</g>

<g id="b20" class="c" transform="translate(0 701.5)">
<circle cx="919.2"/><text transform="translate(919.2 -5.8)rotate(90)scale(1 .62)">52</text><text class="s" x="919.2" y="14">1</text>
<circle cx="929.5"/><text transform="translate(929.5 -5.8)rotate(90)scale(1 .62)">67</text><text class="s" x="929.5" y="14">1</text>
<circle class="f" cx="939.8"/><text transform="translate(939.8 -5.8)rotate(90)scale(1 .62)">106</text><text class="s" x="939.8" y="14">2</text>
<circle cx="950"/><text transform="translate(950 -5.8)rotate(90)scale(1 .62)">181</text><text class="s" x="950" y="14">0</text>
<circle cx="960.3"/><text transform="translate(960.3 -5.8)rotate(90)scale(1 .62)">199</text><text class="s" x="960.3" y="14">1</text>
<circle cx="970.6"/><text transform="translate(970.6 -5.8)rotate(90)scale(1 .62)">219</text><text class="s" x="970.6" y="14">12</text>
</g>

<g id="b21" class="c" transform="translate(0 733.25)">
<circle cx="989.8"/><text transform="translate(989.8 -5.8)rotate(90)scale(1 .62)">30</text><text class="s" x="989.8" y="14">0</text>
<circle cx="1000.3"/><text transform="translate(1000.3 -5.8)rotate(90)scale(1 .62)">34</text><text class="s" x="1000.3" y="14">1</text>
<circle cx="1010.7"/><text transform="translate(1010.7 -5.8)rotate(90)scale(1 .62)">40</text><text class="s" x="1010.7" y="14">1</text>
<circle cx="1021.2"/><text transform="translate(1021.2 -5.8)rotate(90)scale(1 .62)">51</text><text class="s" x="1021.2" y="14">0</text>
<circle class="f" cx="1031.6"/><text transform="translate(1031.6 -5.8)rotate(90)scale(1 .62)">171</text><text class="s" x="1031.6" y="14">2</text>
<circle cx="1042.1"/><text transform="translate(1042.1 -5.8)rotate(90)scale(1 .62)">194</text><text class="s" x="1042.1" y="14">2</text>
<circle cx="1052.5"/><text transform="translate(1052.5 -5.8)rotate(90)scale(1 .62)">198</text><text class="s" x="1052.5" y="14">0</text>
<circle cx="1063"/><text transform="translate(1063 -5.8)rotate(90)scale(1 .62)">204</text><text class="s" x="1063" y="14">0</text>
</g>

<g id="b22" class="c" transform="translate(0 768.5)">
<circle cx="1083"/><text transform="translate(1083 -5.8)rotate(90)scale(1 .62)">76</text><text class="s" x="1083" y="14">1</text>
<circle cx="1093.2"/><text transform="translate(1093.2 -5.8)rotate(90)scale(1 .62)">102</text><text class="s" x="1093.2" y="14">1</text>
<circle cx="1103.4"/><text transform="translate(1103.4 -5.8)rotate(90)scale(1 .62)">110</text><text class="s" x="1103.4" y="14">12</text>
<circle cx="1113.7"/><text transform="translate(1113.7 -5.8)rotate(90)scale(1 .62)">111</text><text class="s" x="1113.7" y="14">2</text>
<circle cx="1123.9"/><text transform="translate(1123.9 -5.8)rotate(90)scale(1 .62)">113</text><text class="s" x="1123.9" y="14">1</text>
<circle cx="1134.1"/><text transform="translate(1134.1 -5.8)rotate(90)scale(1 .62)">192</text><text class="s" x="1134.1" y="14">0</text>
<circle cx="1144.3"/><text transform="translate(1144.3 -5.8)rotate(90)scale(1 .62)">211</text><text class="s" x="1144.3" y="14">1</text>
</g>

<g id="b23" class="c" transform="translate(0 740.3)">
<circle cx="1164.6"/><text transform="translate(1164.6 -5.8)rotate(90)scale(1 .62)">1</text><text class="s" x="1164.6" y="14">2</text>
<circle cx="1175"/><text transform="translate(1175 -5.8)rotate(90)scale(1 .62)">4</text><text class="s" x="1175" y="14">0</text>
<circle cx="1185.4"/><text transform="translate(1185.4 -5.8)rotate(90)scale(1 .62)">56</text><text class="s" x="1185.4" y="14">1</text>
<circle cx="1195.8"/><text transform="translate(1195.8 -5.8)rotate(90)scale(1 .62)">63</text><text class="s" x="1195.8" y="14">1</text>
<circle cx="1206.2"/><text transform="translate(1206.2 -5.8)rotate(90)scale(1 .62)">71</text><text class="s" x="1206.2" y="14">0</text>
<circle cx="1216.6"/><text transform="translate(1216.6 -5.8)rotate(90)scale(1 .62)">92</text><text class="s" x="1216.6" y="14">1</text>
<circle cx="1227"/><text transform="translate(1227 -5.8)rotate(90)scale(1 .62)">129</text><text class="s" x="1227" y="14">1</text>
<circle cx="1237.4"/><text transform="translate(1237.4 -5.8)rotate(90)scale(1 .62)">161</text><text class="s" x="1237.4" y="14">1</text>
<circle cx="1247.8"/><text transform="translate(1247.8 -5.8)rotate(90)scale(1 .62)">163</text><text class="s" x="1247.8" y="14">1</text>
</g>

<g id="b24" class="c" transform="translate(0 796.7)">
<circle cx="1163.5"/><text transform="translate(1163.5 -5.8)rotate(90)scale(1 .62)">18</text><text class="s" x="1163.5" y="14">0</text>
<circle cx="1174.2"/><text transform="translate(1174.2 -5.8)rotate(90)scale(1 .62)">83</text><text class="s" x="1174.2" y="14">1</text>
<circle cx="1184.8"/><text transform="translate(1184.8 -5.8)rotate(90)scale(1 .62)">96</text><text class="s" x="1184.8" y="14">0</text>
<circle cx="1195.5"/><text transform="translate(1195.5 -5.8)rotate(90)scale(1 .62)">103</text><text class="s" x="1195.5" y="14">0</text>
<circle cx="1206.2"/><text transform="translate(1206.2 -5.8)rotate(90)scale(1 .62)">107</text><text class="s" x="1206.2" y="14">0</text>
<circle cx="1216.8"/><text transform="translate(1216.8 -5.8)rotate(90)scale(1 .62)">125</text><text class="s" x="1216.8" y="14">2</text>
<circle cx="1227.5"/><text transform="translate(1227.5 -5.8)rotate(90)scale(1 .62)">168</text><text class="s" x="1227.5" y="14">0</text>
<circle cx="1238.2"/><text transform="translate(1238.2 -5.8)rotate(90)scale(1 .62)">195</text><text class="s" x="1238.2" y="14">0</text>
</g>

<g id="c1" class="c" transform="translate(0 986.2)">
<circle cx="25.9"/><text transform="translate(25.9 -5.8)rotate(90)scale(1 .62)">33</text><text class="s" x="25.9" y="14">1</text>
<circle cx="37.6"/><text transform="translate(37.6 -5.8)rotate(90)scale(1 .62)">63</text><text class="s" x="37.6" y="14">1</text>
<circle cx="49.3"/><text transform="translate(49.3 -5.8)rotate(90)scale(1 .62)">132</text><text class="s" x="49.3" y="14">2</text>
<circle cx="61"/><text transform="translate(61 -5.8)rotate(90)scale(1 .62)">141</text><text class="s" x="61" y="14">0</text>
<circle cx="72.7"/><text transform="translate(72.7 -5.8)rotate(90)scale(1 .62)">142</text><text class="s" x="72.7" y="14">1</text>
<circle cx="84.5"/><text transform="translate(84.5 -5.8)rotate(90)scale(1 .62)">143</text><text class="s" x="84.5" y="14">1</text>
<circle cx="96.2"/><text transform="translate(96.2 -5.8)rotate(90)scale(1 .62)">145</text><text class="s" x="96.2" y="14">3</text>
<circle cx="107.9"/><text transform="translate(107.9 -5.8)rotate(90)scale(1 .62)">195</text><text class="s" x="107.9" y="14">0</text>
<circle cx="119.6"/><text transform="translate(119.6 -5.8)rotate(90)scale(1 .62)">204</text><text class="s" x="119.6" y="14">0</text>
</g>

<g id="c2" class="c" transform="translate(0 1038.5)">
<circle cx="144.5"/><text transform="translate(144.5 -5.8)rotate(90)scale(1 .62)">44</text><text class="s" x="144.5" y="14">1</text>
<circle cx="156.3"/><text transform="translate(156.3 -5.8)rotate(90)scale(1 .62)">52</text><text class="s" x="156.3" y="14">1</text>
<circle cx="168.2"/><text transform="translate(168.2 -5.8)rotate(90)scale(1 .62)">62</text><text class="s" x="168.2" y="14">1</text>
<circle cx="180"/><text transform="translate(180 -5.8)rotate(90)scale(1 .62)">139</text><text class="s" x="180" y="14">2</text>
</g>

<g id="c3" class="c" transform="translate(0 1110.2)">
<circle cx="204"/><text transform="translate(204 -5.8)rotate(90)scale(1 .62)">10</text><text class="s" x="204" y="14">1</text>
<circle cx="216.2"/><text transform="translate(216.2 -5.8)rotate(90)scale(1 .62)">16</text><text class="s" x="216.2" y="14">1</text>
<circle cx="228.4"/><text transform="translate(228.4 -5.8)rotate(90)scale(1 .62)">100</text><text class="s" x="228.4" y="14">0</text>
<circle cx="240.7"/><text transform="translate(240.7 -5.8)rotate(90)scale(1 .62)">107</text><text class="s" x="240.7" y="14">1</text>
<circle cx="252.9"/><text transform="translate(252.9 -5.8)rotate(90)scale(1 .62)">110</text><text class="s" x="252.9" y="14">0</text>
<circle cx="265.1"/><text transform="translate(265.1 -5.8)rotate(90)scale(1 .62)">115</text><text class="s" x="265.1" y="14">0</text>
<circle cx="277.3"/><text transform="translate(277.3 -5.8)rotate(90)scale(1 .62)">117</text><text class="s" x="277.3" y="14">1</text>
<circle cx="289.6"/><text transform="translate(289.6 -5.8)rotate(90)scale(1 .62)">130</text><text class="s" x="289.6" y="14">0</text>
<circle cx="301.8"/><text transform="translate(301.8 -5.8)rotate(90)scale(1 .62)">151</text><text class="s" x="301.8" y="14">1</text>
<circle cx="314"/><text transform="translate(314 -5.8)rotate(90)scale(1 .62)">194</text><text class="s" x="314" y="14">1</text>
</g>

<g id="c4" class="c" transform="translate(0 1023.9)">
<circle cx="342"/><text transform="translate(342 -5.8)rotate(90)scale(1 .62)">76</text><text class="s" x="342" y="14">1</text>
<circle cx="353.6"/><text transform="translate(353.6 -5.8)rotate(90)scale(1 .62)">132</text><text class="s" x="353.6" y="14">1</text>
<circle cx="365.3"/><text transform="translate(365.3 -5.8)rotate(90)scale(1 .62)">145</text><text class="s" x="365.3" y="14">2</text>
<circle cx="376.9"/><text transform="translate(376.9 -5.8)rotate(90)scale(1 .62)">160</text><text class="s" x="376.9" y="14">0</text>
<circle cx="388.5"/><text transform="translate(388.5 -5.8)rotate(90)scale(1 .62)">191</text><text class="s" x="388.5" y="14">1</text>
</g>

<g id="c5" class="c" transform="translate(0 1048.5)">
<circle cx="420.8"/><text transform="translate(420.8 -5.8)rotate(90)scale(1 .62)">2</text><text class="s" x="420.8" y="14">1</text>
<circle cx="432.5"/><text transform="translate(432.5 -5.8)rotate(90)scale(1 .62)">19</text><text class="s" x="432.5" y="14">0</text>
<circle cx="444.3"/><text transform="translate(444.3 -5.8)rotate(90)scale(1 .62)">33</text><text class="s" x="444.3" y="14">0</text>
<circle cx="456"/><text transform="translate(456 -5.8)rotate(90)scale(1 .62)">64</text><text class="s" x="456" y="14">0</text>
<circle cx="467.8"/><text transform="translate(467.8 -5.8)rotate(90)scale(1 .62)">96</text><text class="s" x="467.8" y="14">1</text>
<circle cx="479.5"/><text transform="translate(479.5 -5.8)rotate(90)scale(1 .62)">109</text><text class="s" x="479.5" y="14">0</text>
<circle cx="491.3"/><text transform="translate(491.3 -5.8)rotate(90)scale(1 .62)">170</text><text class="s" x="491.3" y="14">1</text>
<circle cx="503"/><text transform="translate(503 -5.8)rotate(90)scale(1 .62)">172</text><text class="s" x="503" y="14">1</text>
<circle cx="514.7"/><text transform="translate(514.7 -5.8)rotate(90)scale(1 .62)">176</text><text class="s" x="514.7" y="14">0</text>
<circle cx="526.5"/><text transform="translate(526.5 -5.8)rotate(90)scale(1 .62)">178</text><text class="s" x="526.5" y="14">0</text>
<circle cx="538.2"/><text transform="translate(538.2 -5.8)rotate(90)scale(1 .62)">192</text><text class="s" x="538.2" y="14">0</text>
<circle cx="550"/><text transform="translate(550 -5.8)rotate(90)scale(1 .62)">194</text><text class="s" x="550" y="14">2</text>
<circle cx="561.7"/><text transform="translate(561.7 -5.8)rotate(90)scale(1 .62)">221</text><text class="s" x="561.7" y="14">1</text>
</g>

<g id="c6" class="c" transform="translate(0 1196.6)">
<circle cx="341"/><text transform="translate(341 -5.8)rotate(90)scale(1 .62)">14</text><text class="s" x="341" y="14">1</text>
<circle cx="352.9"/><text transform="translate(352.9 -5.8)rotate(90)scale(1 .62)">25</text><text class="s" x="352.9" y="14">0</text>
<circle cx="364.8"/><text transform="translate(364.8 -5.8)rotate(90)scale(1 .62)">57</text><text class="s" x="364.8" y="14">0</text>
<circle cx="376.6"/><text transform="translate(376.6 -5.8)rotate(90)scale(1 .62)">59</text><text class="s" x="376.6" y="14">1</text>
<circle cx="388.5"/><text transform="translate(388.5 -5.8)rotate(90)scale(1 .62)">79</text><text class="s" x="388.5" y="14">1</text>
</g>

<g id="c7" class="c" transform="translate(0 1122)">
<circle cx="415.3"/><text transform="translate(415.3 -5.8)rotate(90)scale(1 .62)">63</text><text class="s" x="415.3" y="14">0</text>
<circle cx="427"/><text transform="translate(427 -5.8)rotate(90)scale(1 .62)">135</text><text class="s" x="427" y="14">0</text>
<circle cx="438.8"/><text transform="translate(438.8 -5.8)rotate(90)scale(1 .62)">171</text><text class="s" x="438.8" y="14">0</text>
<circle cx="450.5"/><text transform="translate(450.5 -5.8)rotate(90)scale(1 .62)">193</text><text class="s" x="450.5" y="14">3</text>
<circle cx="462.2"/><text transform="translate(462.2 -5.8)rotate(90)scale(1 .62)">202</text><text class="s" x="462.2" y="14">4</text>
</g>

<g id="c8" class="c" transform="translate(0 1146.6)">
<circle cx="494.5"/><text transform="translate(494.5 -5.8)rotate(90)scale(1 .62)">13</text><text class="s" x="494.5" y="14">1</text>
<circle cx="506.3"/><text transform="translate(506.3 -5.8)rotate(90)scale(1 .62)">100</text><text class="s" x="506.3" y="14">1</text>
<circle cx="518.2"/><text transform="translate(518.2 -5.8)rotate(90)scale(1 .62)">142</text><text class="s" x="518.2" y="14">2</text>
<circle cx="530"/><text transform="translate(530 -5.8)rotate(90)scale(1 .62)">188</text><text class="s" x="530" y="14">2</text>
</g>

<g id="c9" class="c" transform="translate(0 1271.1)">
<circle cx="415.3"/><text transform="translate(415.3 -5.8)rotate(90)scale(1 .62)">83</text><text class="s" x="415.3" y="14">0</text>
<circle cx="427.1"/><text transform="translate(427.1 -5.8)rotate(90)scale(1 .62)">125</text><text class="s" x="427.1" y="14">1</text>
<circle cx="439"/><text transform="translate(439 -5.8)rotate(90)scale(1 .62)">139</text><text class="s" x="439" y="14">1</text>
<circle cx="450.8"/><text transform="translate(450.8 -5.8)rotate(90)scale(1 .62)">204</text><text class="s" x="450.8" y="14">1</text>
</g>

<g id="c10" class="c" transform="translate(0 1212)">
<circle cx="477.7"/><text transform="translate(477.7 -5.8)rotate(90)scale(1 .62)">120</text><text class="s" x="477.7" y="14">0</text>
<circle cx="489.3"/><text transform="translate(489.3 -5.8)rotate(90)scale(1 .62)">176</text><text class="s" x="489.3" y="14">0</text>
<circle cx="501"/><text transform="translate(501 -5.8)rotate(90)scale(1 .62)">191</text><text class="s" x="501" y="14">1</text>
</g>

<g id="c11" class="c" transform="translate(0 1330.2)">
<circle cx="477.7"/><text transform="translate(477.7 -5.8)rotate(90)scale(1 .62)">4</text><text class="s" x="477.7" y="14">1</text>
<circle cx="489.2"/><text transform="translate(489.2 -5.8)rotate(90)scale(1 .62)">10</text><text class="s" x="489.2" y="14">0</text>
<circle cx="500.7"/><text transform="translate(500.7 -5.8)rotate(90)scale(1 .62)">121</text><text class="s" x="500.7" y="14">2</text>
<circle cx="512.2"/><text transform="translate(512.2 -5.8)rotate(90)scale(1 .62)">214</text><text class="s" x="512.2" y="14">0</text>
</g>

<g id="c12" class="c" transform="translate(0 1277.4)">
<circle cx="539.7"/><text transform="translate(539.7 -5.8)rotate(90)scale(1 .62)">107</text><text class="s" x="539.7" y="14">0</text>
<circle cx="551.3"/><text transform="translate(551.3 -5.8)rotate(90)scale(1 .62)">110</text><text class="s" x="551.3" y="14">2</text>
<circle cx="563"/><text transform="translate(563 -5.8)rotate(90)scale(1 .62)">124</text><text class="s" x="563" y="14">1</text>
<circle cx="574.6"/><text transform="translate(574.6 -5.8)rotate(90)scale(1 .62)">210</text><text class="s" x="574.6" y="14">1</text>
</g>

<g id="c13" class="c" transform="translate(0 1383.1)">
<circle cx="539.7"/><text transform="translate(539.7 -5.8)rotate(90)scale(1 .62)">27</text><text class="s" x="539.7" y="14">0</text>
<circle cx="551.6"/><text transform="translate(551.6 -5.8)rotate(90)scale(1 .62)">140</text><text class="s" x="551.6" y="14">1</text>
<circle cx="563.4"/><text transform="translate(563.4 -5.8)rotate(90)scale(1 .62)">203</text><text class="s" x="563.4" y="14">2</text>
<circle cx="575.3"/><text transform="translate(575.3 -5.8)rotate(90)scale(1 .62)">209</text><text class="s" x="575.3" y="14">1</text>
</g>

<g id="c14" class="c" transform="translate(0 1342.75)">
<circle cx="601.1"/><text transform="translate(601.1 -5.8)rotate(90)scale(1 .62)">19</text><text class="s" x="601.1" y="14">0</text>
<circle cx="612.9"/><text transform="translate(612.9 -5.8)rotate(90)scale(1 .62)">41</text><text class="s" x="612.9" y="14">0</text>
<circle cx="624.6"/><text transform="translate(624.6 -5.8)rotate(90)scale(1 .62)">56</text><text class="s" x="624.6" y="14">1</text>
<circle cx="636.4"/><text transform="translate(636.4 -5.8)rotate(90)scale(1 .62)">99</text><text class="s" x="636.4" y="14">1</text>
<circle cx="648.2"/><text transform="translate(648.2 -5.8)rotate(90)scale(1 .62)">104</text><text class="s" x="648.2" y="14">1</text>
<circle cx="660"/><text transform="translate(660 -5.8)rotate(90)scale(1 .62)">111</text><text class="s" x="660" y="14">0</text>
<circle cx="671.7"/><text transform="translate(671.7 -5.8)rotate(90)scale(1 .62)">126</text><text class="s" x="671.7" y="14">2</text>
<circle cx="683.5"/><text transform="translate(683.5 -5.8)rotate(90)scale(1 .62)">202</text><text class="s" x="683.5" y="14">0</text>
</g>

<g id="c15" class="c" transform="translate(0 1423.5)">
<circle cx="601"/><text transform="translate(601 -5.8)rotate(90)scale(1 .62)">1</text><text class="s" x="601" y="14">2</text>
<circle cx="612.8"/><text transform="translate(612.8 -5.8)rotate(90)scale(1 .62)">57</text><text class="s" x="612.8" y="14">1</text>
<circle cx="624.6"/><text transform="translate(624.6 -5.8)rotate(90)scale(1 .62)">59</text><text class="s" x="624.6" y="14">0</text>
<circle cx="636.4"/><text transform="translate(636.4 -5.8)rotate(90)scale(1 .62)">80</text><text class="s" x="636.4" y="14">0</text>
<circle cx="648.2"/><text transform="translate(648.2 -5.8)rotate(90)scale(1 .62)">109</text><text class="s" x="648.2" y="14">0</text>
<circle cx="660"/><text transform="translate(660 -5.8)rotate(90)scale(1 .62)">211</text><text class="s" x="660" y="14">1</text>
</g>

<g id="c16" class="c" transform="translate(0 1455.2)">
<circle cx="685"/><text transform="translate(685 -5.8)rotate(90)scale(1 .62)">31</text><text class="s" x="685" y="14">1</text>
<circle cx="696.6"/><text transform="translate(696.6 -5.8)rotate(90)scale(1 .62)">40</text><text class="s" x="696.6" y="14">1</text>
<circle cx="708.3"/><text transform="translate(708.3 -5.8)rotate(90)scale(1 .62)">61</text><text class="s" x="708.3" y="14">0</text>
<circle cx="719.9"/><text transform="translate(719.9 -5.8)rotate(90)scale(1 .62)">76</text><text class="s" x="719.9" y="14">0</text>
<circle cx="731.5"/><text transform="translate(731.5 -5.8)rotate(90)scale(1 .62)">79</text><text class="s" x="731.5" y="14">0</text>
<circle cx="743.1"/><text transform="translate(743.1 -5.8)rotate(90)scale(1 .62)">133</text><text class="s" x="743.1" y="14">1</text>
<circle cx="754.8"/><text transform="translate(754.8 -5.8)rotate(90)scale(1 .62)">135</text><text class="s" x="754.8" y="14">0</text>
<circle cx="766.4"/><text transform="translate(766.4 -5.8)rotate(90)scale(1 .62)">155</text><text class="s" x="766.4" y="14">1</text>
<circle cx="778"/><text transform="translate(778 -5.8)rotate(90)scale(1 .62)">157</text><text class="s" x="778" y="14">1</text>
<circle cx="789.6"/><text transform="translate(789.6 -5.8)rotate(90)scale(1 .62)">159</text><text class="s" x="789.6" y="14">1</text>
<circle cx="801.3"/><text transform="translate(801.3 -5.8)rotate(90)scale(1 .62)">181</text><text class="s" x="801.3" y="14">1</text>
<circle cx="812.9"/><text transform="translate(812.9 -5.8)rotate(90)scale(1 .62)">191</text><text class="s" x="812.9" y="14">1</text>
<circle cx="824.5"/><text transform="translate(824.5 -5.8)rotate(90)scale(1 .62)">207</text><text class="s" x="824.5" y="14">1</text>
</g>

<g id="c17" class="c" transform="translate(0 1485.8)">
<circle cx="851"/><text transform="translate(851 -5.8)rotate(90)scale(1 .62)">12</text><text class="s" x="851" y="14">1</text>
<circle cx="862.8"/><text transform="translate(862.8 -5.8)rotate(90)scale(1 .62)">63</text><text class="s" x="862.8" y="14">0</text>
<circle cx="874.5"/><text transform="translate(874.5 -5.8)rotate(90)scale(1 .62)">71</text><text class="s" x="874.5" y="14">0</text>
<circle cx="886.3"/><text transform="translate(886.3 -5.8)rotate(90)scale(1 .62)">77</text><text class="s" x="886.3" y="14">1</text>
<circle cx="898.1"/><text transform="translate(898.1 -5.8)rotate(90)scale(1 .62)">120</text><text class="s" x="898.1" y="14">0</text>
<circle cx="909.8"/><text transform="translate(909.8 -5.8)rotate(90)scale(1 .62)">125</text><text class="s" x="909.8" y="14">2</text>
<circle cx="921.6"/><text transform="translate(921.6 -5.8)rotate(90)scale(1 .62)">129</text><text class="s" x="921.6" y="14">1</text>
<circle cx="933.3"/><text transform="translate(933.3 -5.8)rotate(90)scale(1 .62)">131</text><text class="s" x="933.3" y="14">1</text>
<circle cx="945.1"/><text transform="translate(945.1 -5.8)rotate(90)scale(1 .62)">132</text><text class="s" x="945.1" y="14">1</text>
<circle cx="956.9"/><text transform="translate(956.9 -5.8)rotate(90)scale(1 .62)">141</text><text class="s" x="956.9" y="14">1</text>
<circle cx="968.6"/><text transform="translate(968.6 -5.8)rotate(90)scale(1 .62)">144</text><text class="s" x="968.6" y="14">2</text>
<circle cx="980.4"/><text transform="translate(980.4 -5.8)rotate(90)scale(1 .62)">209</text><text class="s" x="980.4" y="14">0</text>
</g>

<g id="c18" class="c" transform="translate(0 1514.4)">
<circle cx="1006"/><text transform="translate(1006 -5.8)rotate(90)scale(1 .62)">4</text><text class="s" x="1006" y="14">0</text>
<circle cx="1017.9"/><text transform="translate(1017.9 -5.8)rotate(90)scale(1 .62)">9</text><text class="s" x="1017.9" y="14">1</text>
<circle cx="1029.9"/><text transform="translate(1029.9 -5.8)rotate(90)scale(1 .62)">13</text><text class="s" x="1029.9" y="14">0</text>
<circle cx="1041.8"/><text transform="translate(1041.8 -5.8)rotate(90)scale(1 .62)">25</text><text class="s" x="1041.8" y="14">1</text>
<circle cx="1053.7"/><text transform="translate(1053.7 -5.8)rotate(90)scale(1 .62)">28</text><text class="s" x="1053.7" y="14">1</text>
<circle cx="1065.7"/><text transform="translate(1065.7 -5.8)rotate(90)scale(1 .62)">33</text><text class="s" x="1065.7" y="14">0</text>
<circle cx="1077.6"/><text transform="translate(1077.6 -5.8)rotate(90)scale(1 .62)">68</text><text class="s" x="1077.6" y="14">0</text>
<circle cx="1089.5"/><text transform="translate(1089.5 -5.8)rotate(90)scale(1 .62)">69</text><text class="s" x="1089.5" y="14">1</text>
<circle cx="1101.5"/><text transform="translate(1101.5 -5.8)rotate(90)scale(1 .62)">143</text><text class="s" x="1101.5" y="14">0</text>
<circle cx="1113.4"/><text transform="translate(1113.4 -5.8)rotate(90)scale(1 .62)">145</text><text class="s" x="1113.4" y="14">2</text>
</g>

<g id="c19" class="c" transform="translate(0 1539)">
<circle cx="1137.8"/><text transform="translate(1137.8 -5.8)rotate(90)scale(1 .62)">14</text><text class="s" x="1137.8" y="14">0</text>
<circle cx="1149.5"/><text transform="translate(1149.5 -5.8)rotate(90)scale(1 .62)">17</text><text class="s" x="1149.5" y="14">0</text>
<circle cx="1161.2"/><text transform="translate(1161.2 -5.8)rotate(90)scale(1 .62)">40</text><text class="s" x="1161.2" y="14">0</text>
<circle cx="1172.9"/><text transform="translate(1172.9 -5.8)rotate(90)scale(1 .62)">41</text><text class="s" x="1172.9" y="14">0</text>
<circle cx="1184.6"/><text transform="translate(1184.6 -5.8)rotate(90)scale(1 .62)">51</text><text class="s" x="1184.6" y="14">1</text>
<circle cx="1196.3"/><text transform="translate(1196.3 -5.8)rotate(90)scale(1 .62)">203</text><text class="s" x="1196.3" y="14">4</text>
<circle cx="1208"/><text transform="translate(1208 -5.8)rotate(90)scale(1 .62)">207</text><text class="s" x="1208" y="14">0</text>
</g>

<g id="caption" class="cap">
<text transform="translate(117 1369.5) scale(1.15 1)" word-spacing="5.1"><tspan font-weight="bold">Figura 237</tspan>. Hipótesis de la</text>
<text transform="translate(117 1383) scale(1.15 1)" word-spacing="7.2">filogenia de Anomalini con</text>
<text transform="translate(117 1396.5) scale(1.15 1)" word-spacing="7.9">los cambios nomenclaturales</text>
<text transform="translate(117 1410) scale(1.15 1)" word-spacing="8.4">realizados a partir de los</text>
<text transform="translate(117 1423.5) scale(1.15 1)" word-spacing="16.2">resultados obtenidos con</text>
<text transform="translate(117 1437) scale(1.15 1)" word-spacing="7.9">el cladograma de consenso</text>
<text transform="translate(117 1450.5) scale(1.15 1)">estricto.</text>
</g>
</g>
</svg>
